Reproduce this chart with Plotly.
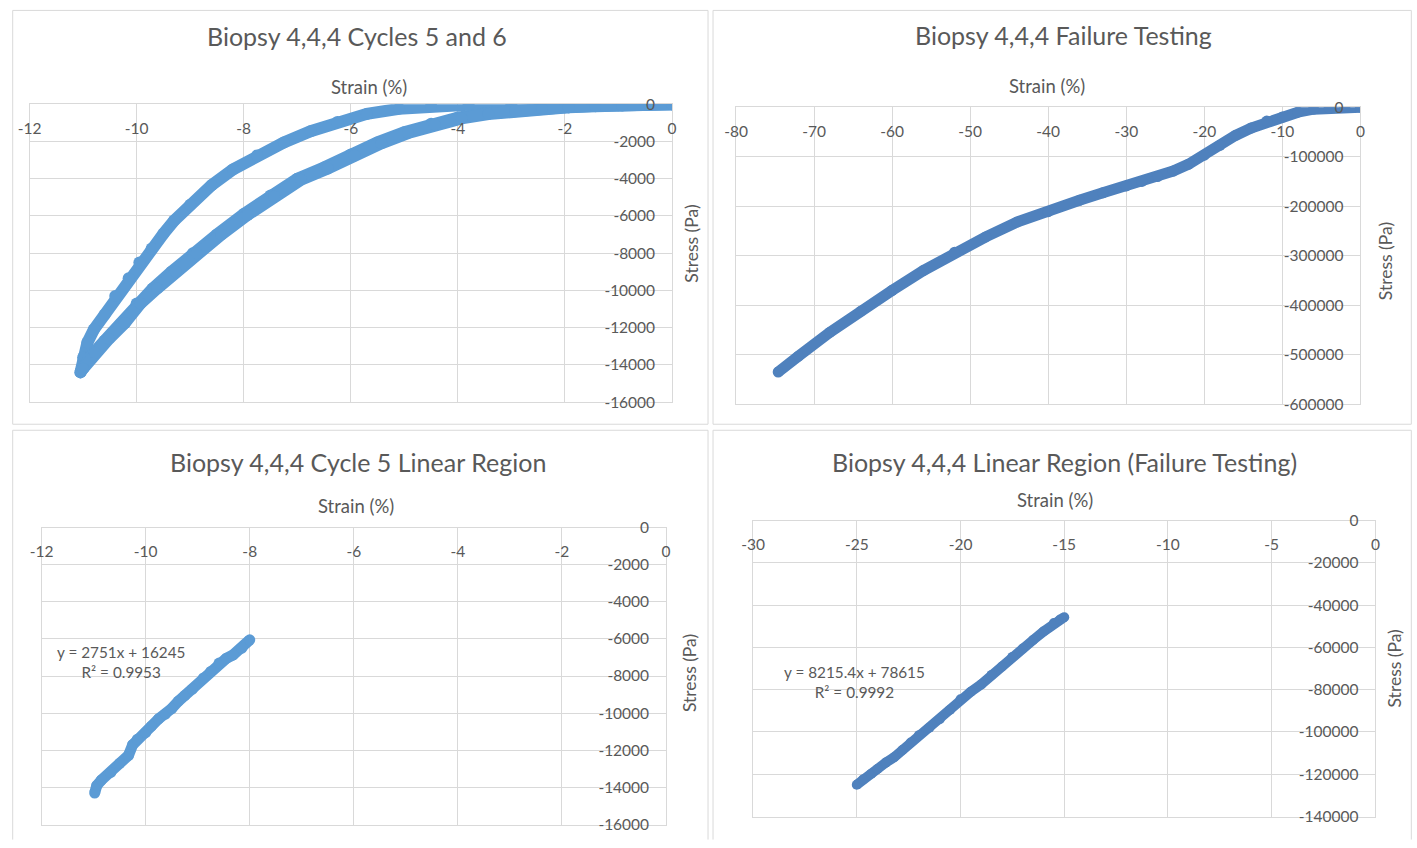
import plotly.graph_objects as go

# ---- Cycles 5 and 6 (hysteresis loops) ----
c5_load_x = [-11.05, -11.0, -10.92, -10.8, -10.6, -10.4, -10.15, -9.95, -9.72, -9.5, -9.3, -9.0,
             -8.6, -8.2, -7.75, -7.25, -6.75, -6.25, -5.7, -5.1, -4.5, -3.8, -3.0, -2.0, -1.0, 0.0]
c5_load_y = [-14400, -13600, -12800, -12100, -11300, -10300, -9350, -8500, -7750, -6950, -6250, -5400,
             -4350, -3500, -2750, -2050, -1450, -950, -520, -250, -100, -30, 0, 30, 20, 0]

c5_unload_x = [-11.05, -10.85, -10.6, -10.3, -10.0, -9.7, -9.35, -8.95, -8.5, -8.0, -7.5, -7.0, -6.5,
               -6.0, -5.5, -5.0, -4.5, -4.0, -3.5, -3.0, -2.5, -2.0, -1.5, -1.0, -0.5, 0.0]
c5_unload_y = [-14400, -13500, -12700, -11800, -10700, -9900, -9000, -8000, -7000, -5900, -4900, -4000,
               -3400, -2700, -2050, -1500, -1050, -720, -500, -340, -240, -160, -100, -60, -30, 0]

c6_unload_x = [-11.0, -10.78, -10.52, -10.22, -9.93, -9.62, -9.27, -8.88, -8.42, -7.93, -7.43, -6.93,
               -6.43, -5.93, -5.43, -4.93, -4.43, -3.93, -3.43, -2.93, -2.43, -1.93, -1.43, -0.93, -0.43, 0.0]
c6_unload_y = [-14200, -13350, -12600, -11750, -10700, -9900, -9000, -8000, -7000, -5950, -4950, -4050,
               -3450, -2750, -2100, -1550, -1100, -760, -530, -360, -250, -170, -110, -70, -35, 0]

# ---- Failure testing ----
fail_x = [0, -2, -4, -6, -8, -10, -12, -14, -16, -18, -20, -22, -24, -26, -28, -30, -33, -36,
          -40, -44, -48, -52, -56, -60, -64, -68, -72, -74.6]
fail_y = [0, -500, -1500, -4000, -10000, -20000, -28000, -42000, -57000, -77000, -97000, -115000,
          -129000, -140000, -150000, -159000, -173000, -188000, -211000, -232000, -262000, -293000,
          -330000, -370000, -412000, -455000, -503000, -535000]

# ---- Cycle 5 linear region ----
lin5_x = [-10.98, -10.94, -10.85, -10.67, -10.5, -10.33, -10.25, -10.16, -10.0, -9.89, -9.75, -9.62,
          -9.5, -9.37, -9.25, -9.1, -8.89, -8.75, -8.59, -8.45, -8.32, -8.15, -8.0]
lin5_y = [-14300, -13900, -13600, -13190, -12700, -12270, -11700, -11400, -11050, -10700, -10300,
          -10050, -9750, -9350, -9050, -8700, -8100, -7750, -7300, -7050, -6860, -6500, -6050]

# ---- Failure testing linear region ----
linf_x = [-25, -24.7, -24.3, -24, -23.6, -23.2, -22.8, -22.4, -22, -21.5, -21, -20.5, -20, -19.5,
          -19, -18.5, -18, -17.5, -17, -16.5, -16, -15.5, -15.2, -15]
linf_y = [-125000, -122500, -119800, -117500, -114500, -112000, -108500, -105000, -101500, -98000,
          -94000, -89500, -84500, -81000, -77500, -73000, -69000, -64500, -60500, -56500, -52500,
          -48500, -46800, -45700]

# ---- Tick values ----
ticks_x_cycle = [-12, -10, -8, -6, -4, -2, 0]
ticks_y_cycle = [0, -2000, -4000, -6000, -8000, -10000, -12000, -14000, -16000]
ticks_x_fail = [-80, -70, -60, -50, -40, -30, -20, -10, 0]
ticks_y_fail = [0, -100000, -200000, -300000, -400000, -500000, -600000]
ticks_x_linf = [-30, -25, -20, -15, -10, -5, 0]
ticks_y_linf = [0, -20000, -40000, -60000, -80000, -100000, -120000, -140000]

titles = ["Biopsy 4,4,4 Cycles 5 and 6", "Biopsy 4,4,4 Failure Testing",
          "Biopsy 4,4,4 Cycle 5 Linear Region", "Biopsy 4,4,4 Linear Region (Failure Testing)"]
eq_cycle5 = "y = 2751x + 16245<br>R² = 0.9953"
eq_fail = "y = 8215.4x + 78615<br>R² = 0.9992"

W, H = 1417, 848
# The figure sits inside the page body margin and the page is shown scaled to
# the window; layout positions below are window pixels, mapped to figure pixels.
SX, OX = 0.9874, 10.4
SY, OY = 0.9756, 12.1
FONT = "Lato, 'Open Sans', sans-serif"
TXT = "#595959"
GRID = "#D9D9D9"
BLUE_L = "#5B9BD5"
BLUE_D = "#4F81BD"


def fx(p):
    return min(max(((p - OX) / SX) / W, 0.0005), 0.9995)


def fy(p):
    return min(max(1 - ((p - OY) / SY) / H, 0.0005), 0.9995)


# panel frame (left, top, right, bottom) and plot box (left, top, right, bottom) in window pixels;
# the lower frames run off the bottom edge, so they are open at the bottom
panels = [
    dict(frame=(5, 5, 706, 425), closed=True, box=(28, 106, 670, 403), title_xy=(355, 38),
         strain_xy=(367, 89), stress_xy=(690, 245), xr=[-12, 0], yr=[-16000, 0],
         xt=ticks_x_cycle, yt=ticks_y_cycle),
    dict(frame=(711, 5, 1413, 425), closed=True, box=(734, 109, 1358, 405), title_xy=(1061, 37),
         strain_xy=(1045, 88), stress_xy=(1383, 262), xr=[-80, 0], yr=[-600000, 0],
         xt=ticks_x_fail, yt=ticks_y_fail),
    dict(frame=(5, 431, 706, 848), closed=False, box=(40, 528, 664, 824), title_xy=(356, 463),
         strain_xy=(354, 506), stress_xy=(687, 673), xr=[-12, 0], yr=[-16000, 0],
         xt=ticks_x_cycle, yt=ticks_y_cycle),
    dict(frame=(711, 431, 1413, 848), closed=False, box=(751, 521, 1373, 816), title_xy=(1062, 463),
         strain_xy=(1053, 501), stress_xy=(1392, 668), xr=[-30, 0], yr=[-140000, 0],
         xt=ticks_x_linf, yt=ticks_y_linf),
]

fig = go.Figure()

series = [
    (0, c5_load_x, c5_load_y, BLUE_L, 12),
    (0, c5_unload_x, c5_unload_y, BLUE_L, 12),
    (0, c6_unload_x, c6_unload_y, BLUE_L, 12),
    (1, fail_x, fail_y, BLUE_D, 11),
    (2, lin5_x, lin5_y, BLUE_L, 11),
    (3, linf_x, linf_y, BLUE_D, 10),
]
for idx, xs, ys, col, sz in series:
    sfx = "" if idx == 0 else str(idx + 1)
    fig.add_trace(go.Scatter(
        x=xs, y=ys, xaxis="x" + sfx, yaxis="y" + sfx, mode="lines+markers",
        line=dict(color=col, width=sz), marker=dict(color=col, size=sz),
        showlegend=False, hoverinfo="skip"))

annotations = []
shapes = []
layout_axes = {}
for i, p in enumerate(panels):
    sfx = "" if i == 0 else str(i + 1)
    l, t, r, b = p["box"]
    common = dict(showgrid=True, gridcolor=GRID, gridwidth=1, zeroline=False,
                  showline=True, linecolor=GRID, linewidth=1, mirror=True,
                  ticks="inside", tickcolor="rgba(0,0,0,0)",
                  ticklabelposition="inside", ticklabeloverflow="allow",
                  tickfont=dict(family=FONT, size=15.5, color=TXT), fixedrange=True)
    layout_axes["xaxis" + sfx] = dict(
        common, domain=[fx(l), fx(r)], range=p["xr"], side="top", ticklen=19,
        tickvals=p["xt"], ticktext=[str(v) for v in p["xt"]], anchor="y" + sfx)
    layout_axes["yaxis" + sfx] = dict(
        common, domain=[fy(b), fy(t)], range=p["yr"], side="right", ticklen=17,
        tickvals=p["yt"], ticktext=[str(v) for v in p["yt"]], anchor="x" + sfx)

    fl, ft, fr, fb = p["frame"]
    x0, x1, y0, y1 = fx(fl), fx(fr), fy(fb), fy(ft)
    if p["closed"]:
        shapes.append(dict(type="rect", xref="paper", yref="paper", x0=x0, x1=x1, y0=y0, y1=y1,
                           line=dict(color=GRID, width=1), layer="below"))
    else:
        shapes.append(dict(type="path", xref="paper", yref="paper",
                           path=f"M {x0},{y0} L {x0},{y1} L {x1},{y1} L {x1},{y0}",
                           line=dict(color=GRID, width=1), layer="below"))

    tx, ty = p["title_xy"]
    annotations.append(dict(text=titles[i], xref="paper", yref="paper", x=fx(tx), y=fy(ty),
                            showarrow=False, xanchor="center", yanchor="middle",
                            font=dict(family=FONT, size=25, color=TXT)))
    sx, sy = p["strain_xy"]
    annotations.append(dict(text="Strain (%)", xref="paper", yref="paper", x=fx(sx), y=fy(sy),
                            showarrow=False, xanchor="center", yanchor="middle",
                            font=dict(family=FONT, size=18.5, color=TXT)))
    rx, ry = p["stress_xy"]
    annotations.append(dict(text="Stress (Pa)", xref="paper", yref="paper", x=fx(rx), y=fy(ry),
                            showarrow=False, xanchor="center", yanchor="middle", textangle=-90,
                            font=dict(family=FONT, size=17.5, color=TXT)))

annotations.append(dict(text=eq_cycle5, xref="paper", yref="paper", x=fx(119), y=fy(662),
                        showarrow=False, xanchor="center", yanchor="middle", align="center",
                        font=dict(family=FONT, size=15.3, color=TXT)))
annotations.append(dict(text=eq_fail, xref="paper", yref="paper", x=fx(852), y=fy(682),
                        showarrow=False, xanchor="center", yanchor="middle", align="center",
                        font=dict(family=FONT, size=15.3, color=TXT)))

fig.update_layout(
    width=W, height=H, margin=dict(l=0, r=0, t=0, b=0),
    paper_bgcolor="white", plot_bgcolor="white",
    annotations=annotations, shapes=shapes, **layout_axes)

fig.write_html("out.html", config={"displayModeBar": False})
